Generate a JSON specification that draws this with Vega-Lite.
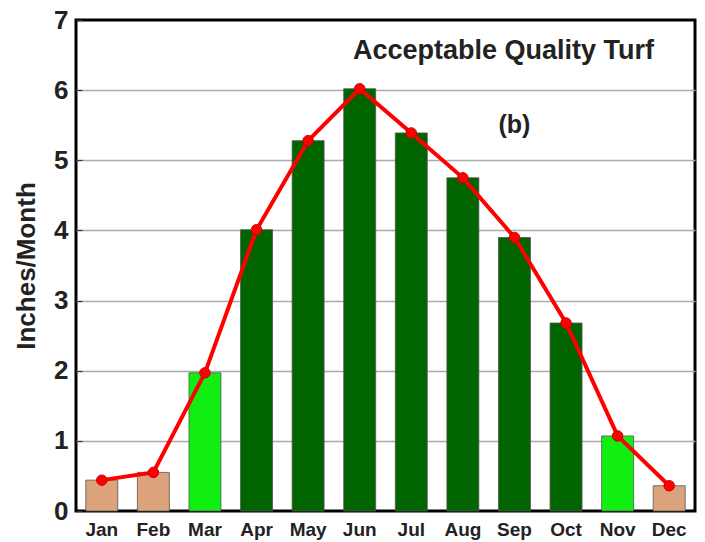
{
  "$schema": "https://vega.github.io/schema/vega-lite/v6.json",
  "width": 619,
  "height": 491,
  "autosize": {"type": "none"},
  "padding": {"left": 76, "top": 20, "right": 10, "bottom": 31},
  "background": "white",
  "config": {
    "font": "Liberation Sans",
    "view": {"stroke": "black", "strokeWidth": 3}
  },
  "datasets": {
    "months": [
      {"month": "Jan", "value": 0.44, "type": "dormant"},
      {"month": "Feb", "value": 0.55, "type": "dormant"},
      {"month": "Mar", "value": 1.97, "type": "transition"},
      {"month": "Apr", "value": 4.01, "type": "active"},
      {"month": "May", "value": 5.28, "type": "active"},
      {"month": "Jun", "value": 6.02, "type": "active"},
      {"month": "Jul", "value": 5.39, "type": "active"},
      {"month": "Aug", "value": 4.75, "type": "active"},
      {"month": "Sep", "value": 3.9, "type": "active"},
      {"month": "Oct", "value": 2.68, "type": "active"},
      {"month": "Nov", "value": 1.07, "type": "transition"},
      {"month": "Dec", "value": 0.36, "type": "dormant"}
    ],
    "title": [
      {"month": "Sep", "value": 6.56, "text": "Acceptable Quality Turf"}
    ],
    "panel": [
      {"month": "Sep", "value": 5.5, "text": "(b)"}
    ]
  },
  "layer": [
    {
      "data": {"name": "months"},
      "mark": {"type": "bar", "stroke": "#555555", "strokeWidth": 0.8},
      "encoding": {
        "x": {
          "field": "month", "type": "nominal", "sort": null,
          "scale": {"paddingInner": 0.38, "paddingOuter": 0.19},
          "axis": {
            "title": null, "labelAngle": 0, "labelFontSize": 19, "labelFontWeight": "bold",
            "labelColor": "#222222", "labelPadding": 9, "ticks": false, "domain": false
          }
        },
        "y": {
          "field": "value", "type": "quantitative",
          "scale": {"domain": [0, 7], "nice": false},
          "axis": {
            "title": "Inches/Month", "titleFontSize": 26, "titleFontWeight": "bold", "titleColor": "#222222",
            "titlePadding": 14,
            "values": [0,0.25,0.5,0.75,1,1.25,1.5,1.75,2,2.25,2.5,2.75,3,3.25,3.5,3.75,4,4.25,4.5,4.75,5,5.25,5.5,5.75,6,6.25,6.5,6.75,7],
            "labelExpr": "datum.value % 1 === 0 ? format(datum.value, 'd') : ''",
            "labelFontSize": 26, "labelFontWeight": "bold", "labelColor": "#222222",
            "labelPadding": 14,
            "tickSize": -6, "tickColor": "#333333", "tickWidth": 1.2,
            "domain": false,
            "grid": true,
            "gridColor": {"condition": {"test": "datum.value % 1 !== 0 || datum.value === 0 || datum.value === 7", "value": "transparent"}, "value": "#aaaaaa"},
            "gridWidth": 1.5
          }
        },
        "color": {
          "field": "type", "type": "nominal", "legend": null,
          "scale": {"domain": ["dormant", "transition", "active"], "range": ["#DBA27C", "#11EE11", "#006400"]}
        }
      }
    },
    {
      "data": {"name": "months"},
      "mark": {"type": "line", "color": "#FF0000", "strokeWidth": 4},
      "encoding": {
        "x": {"field": "month", "type": "nominal", "sort": null},
        "y": {"field": "value", "type": "quantitative"}
      }
    },
    {
      "data": {"name": "months"},
      "mark": {"type": "point", "filled": true, "color": "#FF0000", "size": 110, "opacity": 1, "stroke": "#CC0000", "strokeWidth": 1},
      "encoding": {
        "x": {"field": "month", "type": "nominal", "sort": null},
        "y": {"field": "value", "type": "quantitative"}
      }
    },
    {
      "data": {"name": "title"},
      "mark": {"type": "text", "fontWeight": "bold", "color": "#222222", "fontSize": 27, "dx": -11},
      "encoding": {
        "x": {"field": "month", "type": "nominal", "sort": null},
        "y": {"field": "value", "type": "quantitative"},
        "text": {"field": "text"}
      }
    },
    {
      "data": {"name": "panel"},
      "mark": {"type": "text", "fontWeight": "bold", "color": "#222222", "fontSize": 25, "dx": 0},
      "encoding": {
        "x": {"field": "month", "type": "nominal", "sort": null},
        "y": {"field": "value", "type": "quantitative"},
        "text": {"field": "text"}
      }
    }
  ]
}
